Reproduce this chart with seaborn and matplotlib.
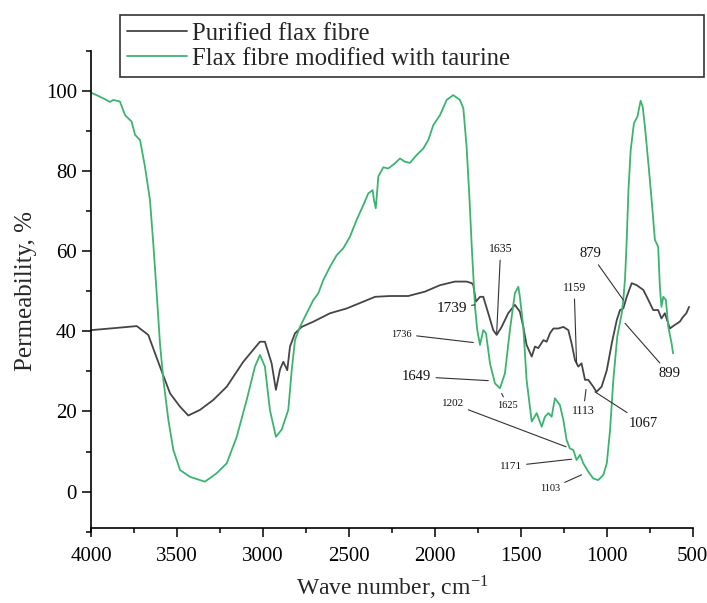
import numpy as np
import pandas as pd
import matplotlib
matplotlib.use("Agg")
import matplotlib.pyplot as plt
import seaborn as sns

# ---------------- data ----------------
purified_wn = [4000, 3892, 3736, 3669, 3601, 3542, 3484, 3436, 3368, 3290, 3212, 3116,
               3019, 2990, 2951, 2926, 2902, 2883, 2860, 2844, 2815, 2776, 2708, 2611,
               2514, 2417, 2349, 2262, 2156, 2058, 1971, 1884, 1816, 1786, 1777, 1762,
               1738, 1719, 1690, 1661, 1641, 1612, 1574, 1535, 1506, 1486, 1467, 1437,
               1418, 1399, 1369, 1350, 1331, 1311, 1282, 1253, 1224, 1205, 1185, 1166,
               1147, 1127, 1108, 1079, 1060, 1030, 1000, 971, 942, 923, 904, 884, 855,
               826, 787, 758, 730, 701, 682, 662, 633, 604, 575, 556, 537, 521]
purified_T = [40.3, 40.7, 41.3, 39.1, 31.2, 24.5, 21.2, 19.0, 20.4, 22.9, 26.2, 32.4,
              37.4, 37.4, 32.0, 25.4, 30.5, 32.4, 30.3, 36.2, 39.5, 41.1, 42.4, 44.5,
              45.7, 47.4, 48.6, 48.8, 48.8, 49.9, 51.5, 52.4, 52.4, 52.0, 51.5, 47.4,
              48.6, 48.6, 44.5, 40.3, 39.1, 41.1, 44.5, 46.6, 44.9, 41.1, 36.6, 33.7,
              36.2, 35.8, 37.8, 37.4, 39.5, 40.7, 40.7, 41.1, 40.3, 37.0, 32.8, 31.2,
              32.0, 27.9, 27.9, 26.2, 24.9, 26.2, 30.3, 37.0, 42.8, 45.3, 45.7, 48.6, 52.0,
              51.5, 50.3, 47.8, 45.3, 45.3, 43.2, 44.5, 40.7, 41.6, 42.4, 43.6, 44.5, 46.1]

taurine_wn = [4000, 3931, 3892, 3872, 3834, 3804, 3766, 3746, 3717, 3688, 3659, 3640,
              3620, 3601, 3581, 3552, 3523, 3484, 3426, 3339, 3271, 3212, 3154, 3096,
              3048, 3019, 2990, 2961, 2926, 2892, 2854, 2834, 2815, 2786, 2747, 2708,
              2679, 2650, 2611, 2572, 2534, 2495, 2456, 2417, 2388, 2363, 2355, 2345,
              2336, 2330, 2301, 2272, 2233, 2204, 2175, 2146, 2106, 2068, 2039, 2010,
              1971, 1932, 1894, 1855, 1835, 1816, 1800, 1786, 1767, 1754, 1738, 1719,
              1703, 1680, 1651, 1622, 1593, 1564, 1535, 1515, 1506, 1486, 1467, 1437,
              1408, 1379, 1360, 1340, 1321, 1302, 1273, 1253, 1234, 1215, 1195, 1176,
              1156, 1137, 1108, 1079, 1050, 1020, 1000, 981, 962, 939, 913, 904, 894,
              884, 874, 861, 842, 822, 803, 791, 778, 758, 739, 720, 701, 691, 682,
              671, 656, 642, 623, 614]
taurine_T = [99.5, 98.1, 97.2, 97.7, 97.3, 93.9, 92.3, 89.0, 87.7, 81.0, 72.7, 62.0,
             49.5, 37.0, 27.9, 17.9, 10.4, 5.4, 3.7, 2.5, 4.6, 7.1, 13.7, 22.9,
             31.2, 34.1, 31.2, 20.4, 13.7, 15.5, 20.4, 30.3, 37.8, 41.1, 44.5, 47.8,
             49.5, 52.8, 56.1, 59.0, 60.7, 63.6, 67.8, 71.5, 74.4, 75.2, 72.7, 70.7,
             75.2, 78.6, 80.9, 80.6, 81.9, 83.1, 82.3, 82.0, 84.0, 85.6, 87.7, 91.4,
             93.9, 97.7, 98.9, 97.7, 95.6, 86.0, 73.6, 61.1, 46.0, 40.3, 36.6, 40.3,
             39.5, 32.0, 27.0, 25.8, 29.5, 40.3, 49.5, 51.1, 48.6, 41.1, 27.9, 17.5,
             19.6, 16.2, 18.7, 19.6, 18.7, 23.3, 21.6, 17.9, 12.9, 10.8, 10.4, 7.9,
             9.2, 7.1, 5.0, 3.3, 2.9, 4.2, 7.1, 15.4, 27.9, 38.7, 44.5, 47.8, 53.0,
             62.8, 75.2, 85.2, 91.9, 93.5, 97.5, 96.0, 91.0, 81.9, 72.7, 62.8, 61.1, 51.1, 46.1,
             48.6, 47.8, 41.1, 37.0, 34.5]

series_names = ["Purified flax fibre", "Flax fibre modified with taurine"]
xticks = [4000, 3500, 3000, 2500, 2000, 1500, 1000, 500]
yticks = [0, 20, 40, 60, 80, 100]

peak_labels = ["1635", "1739", "1736", "1649", "1625", "1202", "1171", "1103",
               "1159", "1113", "1067", "879", "899"]

# layout of annotations: (text x, text y, point x, point y, fontsize)
peak_layout = [
    (1618, 60.4, 1641, 39.5, 8.5),
    (1903, 45.7, 1767, 46.6, 11),
    (2194, 39.3, 1777, 37.2, 7.5),
    (2106, 28.7, 1690, 27.7, 10.5),
    (1577, 21.4, 1612, 24.5, 7.5),
    (1897, 21.9, 1237, 11.2, 8),
    (1558, 6.4, 1205, 8.1, 8),
    (1330, 0.7, 1147, 4.2, 7.5),
    (1190, 50.7, 1176, 32.0, 8.5),
    (1137, 20.0, 1121, 25.5, 8.5),
    (787, 17.1, 1069, 24.9, 10.5),
    (1094, 59.3, 904, 47.8, 10.5),
    (636, 29.4, 894, 42.0, 10.5),
]

df = pd.concat([
    pd.DataFrame({"wn": purified_wn, "T": purified_T, "series": series_names[0]}),
    pd.DataFrame({"wn": taurine_wn, "T": taurine_T, "series": series_names[1]}),
], ignore_index=True)

# ---------------- style ----------------
sns.set_style("ticks")
plt.rcParams["font.family"] = ["Liberation Serif", "DejaVu Serif"]
plt.rcParams["mathtext.fontset"] = "stix"

fig = plt.figure(figsize=(7.07, 6.03), dpi=100)
ax = fig.add_axes([91.4 / 707, 1 - 531.8 / 603, (692.7 - 91.4) / 707, (531.8 - 50.6) / 603])

palette = {series_names[0]: "#454545", series_names[1]: "#3cb371"}
sns.lineplot(data=df, x="wn", y="T", hue="series", palette=palette, sort=False,
             estimator=None, linewidth=1.3, ax=ax, legend=True)

ax.set_xlim(4000, 500)
ax.set_ylim(-10, 110)
ax.set_xticks(xticks)
ax.set_xticklabels([str(t) for t in xticks])
ax.set_xticks(np.arange(3750, 500, -500), minor=True)
ax.set_yticks(yticks)
ax.set_yticklabels([str(t) for t in yticks])
ax.set_yticks(np.arange(-10, 111, 20), minor=True)

for side in ["top", "right"]:
    ax.spines[side].set_visible(False)
for side in ["left", "bottom"]:
    ax.spines[side].set_linewidth(1.2)
    ax.spines[side].set_color("black")
ax.spines["bottom"].set_position(("data", -9))

ax.tick_params(axis="both", which="major", direction="out", length=6.5, width=1.1,
               labelsize=15, colors="black", pad=4)
ax.tick_params(axis="both", which="minor", direction="out", length=3.5, width=1.1,
               colors="black")
ax.tick_params(axis="x", which="major", pad=7)

ax.set_xlabel(r"Wave number, cm$^{\mathregular{-1}}$", fontsize=17, labelpad=6)
ax.set_ylabel("Permeability, %", fontsize=18, labelpad=6)

for lab, (tx, ty, px, py, fs) in zip(peak_labels, peak_layout):
    ax.annotate(lab, xy=(px, py), xytext=(tx, ty), ha="center", va="center",
                fontsize=fs, color="#111111",
                arrowprops=dict(arrowstyle="-", color="#333333", lw=0.8,
                                shrinkA=1, shrinkB=0))

handles, labels = ax.get_legend_handles_labels()
ax.get_legend().remove()
leg = fig.legend(handles, labels, loc="upper left", mode="expand",
                 bbox_to_anchor=(120 / 707, 0.5, 584 / 707, 1 - 15 / 603 - 0.5),
                 bbox_transform=fig.transFigure, fontsize=17.8, frameon=True,
                 fancybox=False, borderaxespad=0, handlelength=2.4,
                 handletextpad=0.2, borderpad=0.3, labelspacing=0.12)
leg.get_frame().set_edgecolor("black")
leg.get_frame().set_linewidth(1.2)
for line in leg.get_lines():
    line.set_linewidth(1.3)

fig.savefig("out.png", dpi=100)
